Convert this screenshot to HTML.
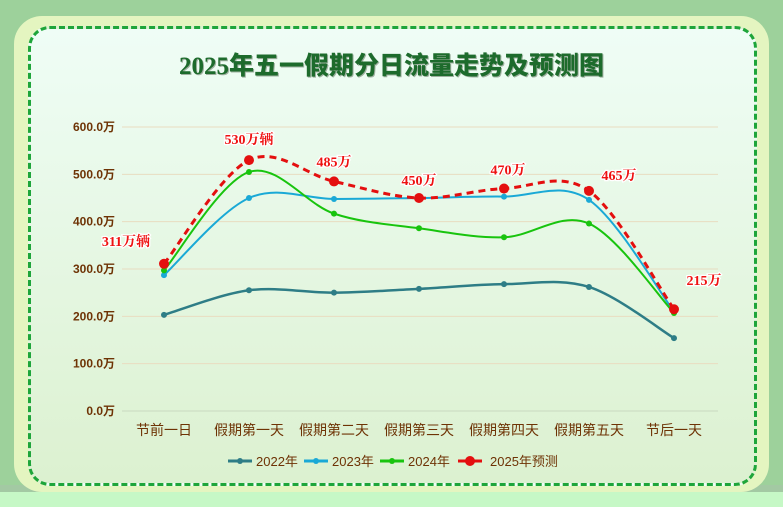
<!DOCTYPE html>
<html><head><meta charset="utf-8">
<style>
html,body{margin:0;padding:0}
body{width:783px;height:507px;overflow:hidden;background:linear-gradient(#9dd19b 0,#9dd19b 485px,#a3c9a3 485px,#a3c9a3 492px,#c6f8c6 492px);font-family:"Liberation Sans","Noto Sans CJK SC",sans-serif;position:relative}
#card{position:absolute;left:14px;top:16px;width:755px;height:476px;border-radius:28px;background:#e4f5c0}
#inner{position:absolute;left:28px;top:26px;width:723px;height:454px;border:3px dashed #1ea53a;border-radius:22px;background:linear-gradient(#effdf6,#dcf1d0)}
#title{position:absolute;left:0;top:46px;width:783px;text-align:center;font-family:"Liberation Serif","Noto Sans CJK SC",serif;font-weight:900;font-size:25px;color:#1d6b2c;text-shadow:1px 1px 0 #9fb0a0}
svg{position:absolute;left:0;top:0}
</style></head><body>
<div id="card"></div>
<div id="inner"></div>
<div id="title">2025年五一假期分日流量走势及预测图</div>
<svg id="c" width="783" height="507"></svg>
<script>
const categories=["节前一日","假期第一天","假期第二天","假期第三天","假期第四天","假期第五天","节后一天"];
const s2022=[203,255,250,258,268,262,154];
const s2023=[287,450,448,450,453,446,210];
const s2024=[297,505,417,386,367,396,207];
const s2025=[311,530,485,450,470,465,215];
const labels2025=["311万辆","530万辆","485万","450万","470万","465万","215万"];
const yTicks=[0,100,200,300,400,500,600];
const NS="http://www.w3.org/2000/svg";
const svg=document.getElementById('c');
const x=i=>164+i*85;
const y=v=>411-v*(284/600);
function mk(t,a,p){const e=document.createElementNS(NS,t);for(const k in a)e.setAttribute(k,a[k]);(p||svg).appendChild(e);return e;}
yTicks.forEach(v=>{
 const l=mk('line',{x1:122,x2:718,y1:y(v),y2:y(v),stroke:v==0?'#c8d8c0':'#e8dcc0','stroke-width':1});
 
 
 const t=mk('text',{x:115,y:y(v)+4,'text-anchor':'end','font-size':12,'font-weight':'bold',fill:'#6e3305','font-family':'Liberation Sans,Noto Sans CJK SC,sans-serif'});
 t.textContent=v.toFixed(1)+'万';
 
 
});
categories.forEach((c,i)=>{
 const t=mk('text',{x:x(i),y:435,'text-anchor':'middle','font-size':14,fill:'#6e3305','font-family':'Liberation Sans,Noto Sans CJK SC,sans-serif'});
 t.textContent=c;
 
 
});
function path(d){
 const p=d.map((v,i)=>[x(i),y(v)]);
 let s=`M${p[0][0]},${p[0][1]}`;
 for(let i=0;i<p.length-1;i++){
  const p0=p[Math.max(0,i-1)],p1=p[i],p2=p[i+1],p3=p[Math.min(p.length-1,i+2)];
  const c1=[p1[0]+(p2[0]-p0[0])/6,p1[1]+(p2[1]-p0[1])/6];
  const c2=[p2[0]-(p3[0]-p1[0])/6,p2[1]-(p3[1]-p1[1])/6];
  s+=` C${c1[0]},${c1[1]} ${c2[0]},${c2[1]} ${p2[0]},${p2[1]}`;
 }
 return s;
}
const series=[[s2022,'#2e7d86',2.5,null,3,'series-2022'],[s2023,'#1aa9d6',2,null,3,'series-2023'],[s2024,'#18c40e',2,null,3,'series-2024'],[s2025,'#e40f0f',3,'7,5',5,'series-2025']];
series.forEach(([d,col,w,dash,r,name])=>{
 const g=mk('g',{});
 
 
 const a={d:path(d),fill:'none',stroke:col,'stroke-width':w};if(dash)a['stroke-dasharray']=dash;
 mk('path',a,g);
 d.forEach((v,i)=>{const c=mk('circle',{cx:x(i),cy:y(v),r:r,fill:col},g);
  
  });
});
const off=[[-38,-18],[0,-16],[0,-15],[0,-13],[4,-14],[30,-11],[30,-24]];
s2025.forEach((v,i)=>{
 const t=mk('text',{x:x(i)+off[i][0],y:y(v)+off[i][1],'text-anchor':'middle','font-size':14,'font-weight':'bold',fill:'#ee1111',stroke:'#fff','stroke-width':2.5,'paint-order':'stroke','font-family':'Liberation Serif,Noto Serif CJK SC,serif'});
 t.textContent=labels2025[i];
 
 
});
const leg=[['2022年','#2e7d86',228],['2023年','#1aa9d6',304],['2024年','#18c40e',380],['2025年预测','#e40f0f',458]];
leg.forEach(([n,col,lx])=>{
 const g=mk('g',{});
 
 
 mk('line',{x1:lx,x2:lx+24,y1:461,y2:461,stroke:col,'stroke-width':3},g);
 mk('circle',{cx:lx+12,cy:461,r:n.length>5?5:3,fill:col},g);
 const t=mk('text',{x:lx+28+(n.length>5?4:0),y:466,'font-size':13,fill:'#6e3305','font-family':'Liberation Sans,Noto Sans CJK SC,sans-serif'},g);
 t.textContent=n;
});
</script>
</body></html>
